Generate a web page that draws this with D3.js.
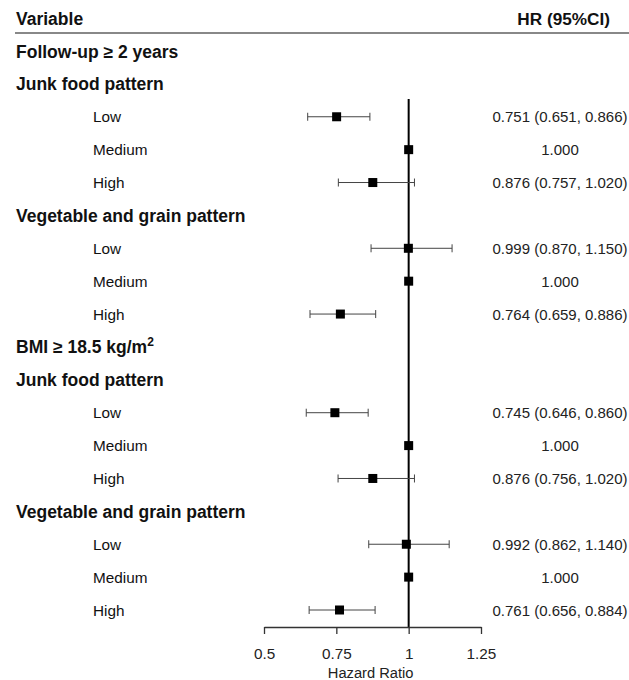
<!DOCTYPE html>
<html><head><meta charset="utf-8">
<script src="https://cdn.jsdelivr.net/npm/d3@7"></script>
<style>body{margin:0;background:#fff;} svg{display:block;}</style>
</head><body>
<svg id="c" width="629" height="680"></svg>
<script>
// row labels (type: g = group header, s = subgroup header, r = data row)
const rowLabels = ["Follow-up ≥ 2 years","Junk food pattern","Low","Medium","High","Vegetable and grain pattern","Low","Medium","High",
  "BMI ≥ 18.5 kg/m","Junk food pattern","Low","Medium","High","Vegetable and grain pattern","Low","Medium","High"];
const rowTypes = ["g","s","r","r","r","s","r","r","r","g","s","r","r","r","s","r","r","r"];
const hr    = [null,null,0.751,1.000,0.876,null,0.999,1.000,0.764,null,null,0.745,1.000,0.876,null,0.992,1.000,0.761];
const lower = [null,null,0.651,null,0.757,null,0.870,null,0.659,null,null,0.646,null,0.756,null,0.862,null,0.656];
const upper = [null,null,0.866,null,1.020,null,1.150,null,0.886,null,null,0.860,null,1.020,null,1.140,null,0.884];
const hrText = ["","","0.751 (0.651, 0.866)","1.000","0.876 (0.757, 1.020)","","0.999 (0.870, 1.150)","1.000","0.764 (0.659, 0.886)",
  "","","0.745 (0.646, 0.860)","1.000","0.876 (0.756, 1.020)","","0.992 (0.862, 1.140)","1.000","0.761 (0.656, 0.884)"];
const tickValues = [0.5,0.75,1,1.25];
const tickLabels = ["0.5","0.75","1","1.25"];

const svg = d3.select("#c");
const font = "'Liberation Sans', Arial, sans-serif";
const x = d3.scaleLinear().domain([0.5,1.25]).range([264,481]);
const y = d3.scalePoint().domain(d3.range(rowLabels.length)).range([51,610]);
const axisY = 627;

// header
svg.append("text").attr("x",16).attr("y",25).attr("font-family",font).attr("font-weight","bold")
  .attr("font-size",17.5).attr("fill","#111").text("Variable");
svg.append("text").attr("x",610).attr("y",25).attr("text-anchor","end").attr("font-family",font).attr("font-weight","bold")
  .attr("font-size",17.2).attr("fill","#111").text("HR (95%CI)");
svg.append("line").attr("x1",15).attr("x2",629).attr("y1",33).attr("y2",33).attr("stroke","#888").attr("stroke-width",2.2);

// labels
const rows = rowLabels.map((l,i)=>({l,i,t:rowTypes[i]}));
const lab = svg.append("g").selectAll("text").data(rows).join("text")
  .attr("x",d=>d.t==="r"?93:16)
  .attr("y",d=>y(d.i)+(d.t==="r"?5.5:6.5))
  .attr("font-family",font)
  .attr("font-weight",d=>d.t==="r"?"normal":"bold")
  .attr("font-size",d=>d.t==="r"?15.3:17.5)
  .attr("fill","#111")
  .text(d=>d.l);
lab.filter(d=>d.l.startsWith("BMI")).append("tspan").attr("baseline-shift","super").attr("font-size",12).text("2");

// HR text
svg.append("g").selectAll("text").data(rows.filter(d=>hrText[d.i])).join("text")
  .attr("x",560).attr("y",d=>y(d.i)+5.5).attr("text-anchor","middle")
  .attr("font-family",font).attr("font-size",15).attr("fill","#222")
  .text(d=>hrText[d.i]);

// reference line
svg.append("line").attr("x1",x(1)).attr("x2",x(1)).attr("y1",99).attr("y2",axisY)
  .attr("stroke","#000").attr("stroke-width",2);

// CIs
const ci = rows.filter(d=>lower[d.i]!=null);
const gci = svg.append("g").attr("stroke","#444").attr("stroke-width",1);
gci.selectAll(".h").data(ci).join("line").attr("x1",d=>x(lower[d.i])).attr("x2",d=>x(upper[d.i]))
  .attr("y1",d=>y(d.i)).attr("y2",d=>y(d.i));
gci.selectAll(".l").data(ci).join("line").attr("x1",d=>x(lower[d.i])).attr("x2",d=>x(lower[d.i]))
  .attr("y1",d=>y(d.i)-4).attr("y2",d=>y(d.i)+4);
gci.selectAll(".u").data(ci).join("line").attr("x1",d=>x(upper[d.i])).attr("x2",d=>x(upper[d.i]))
  .attr("y1",d=>y(d.i)-4).attr("y2",d=>y(d.i)+4);

// points
const pts = rows.filter(d=>hr[d.i]!=null);
svg.append("g").selectAll("rect").data(pts).join("rect")
  .attr("x",d=>x(hr[d.i])-4.5).attr("y",d=>y(d.i)-4.5).attr("width",9).attr("height",9).attr("fill","#000");

// axis
const ax = svg.append("g").attr("transform",`translate(0,${axisY})`)
  .call(d3.axisBottom(x).tickValues(tickValues).tickFormat((d,i)=>tickLabels[i]).tickSize(7).tickPadding(14).tickSizeOuter(0));
ax.select(".domain").attr("stroke","#333").attr("stroke-width",1.3);
ax.selectAll(".tick line").attr("stroke","#333").attr("stroke-width",1.3);
ax.selectAll(".tick text").attr("font-family",font).attr("font-size",15.3).attr("fill","#222");
svg.append("text").attr("x",x(1)-38).attr("y",678).attr("text-anchor","middle").attr("font-family",font)
  .attr("font-size",14.7).attr("fill","#222").text("Hazard Ratio");
</script>
</body></html>
